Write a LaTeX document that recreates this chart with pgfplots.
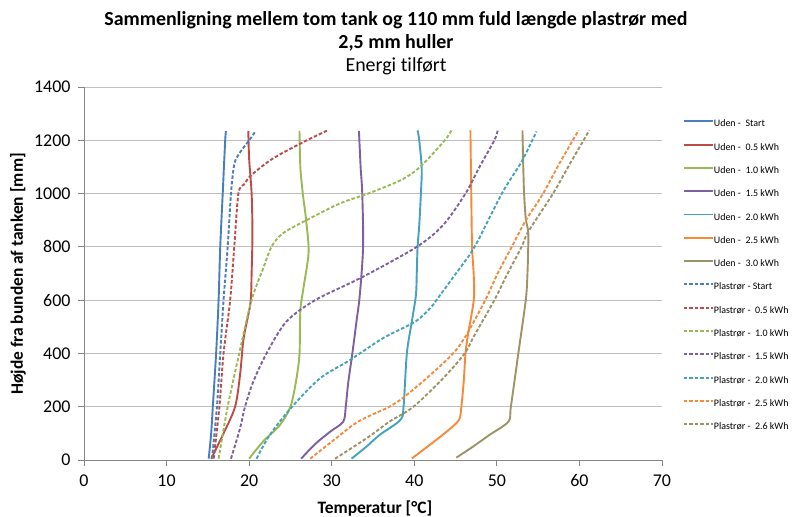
\documentclass[border=0pt]{standalone}
\usepackage{fontspec}
\setmainfont{Carlito}[Ligatures=CommonOff]
\usepackage{pgfplots}
\pgfplotsset{compat=1.18}
\definecolor{c1}{HTML}{4A7EBB}
\definecolor{c2}{HTML}{BE4B48}
\definecolor{c3}{HTML}{98B954}
\definecolor{c4}{HTML}{7D60A0}
\definecolor{c5}{HTML}{44A2BB}
\definecolor{c6}{HTML}{F68A3A}
\definecolor{c7}{HTML}{9D9465}
\definecolor{axgray}{HTML}{868686}
\definecolor{gridgray}{HTML}{BFBFBF}
\begin{document}
\begin{tikzpicture}
\useasboundingbox (0,0) rectangle (792bp,517bp);
\begin{axis}[
  at={(84bp,57bp)}, anchor=south west, scale only axis,
  width=578bp, height=373bp,
  xmin=0, xmax=70, ymin=0, ymax=1400,
  xtick={0,10,...,70}, ytick={0,200,...,1400},
  axis lines*=left,
  axis line style={draw=axgray, line width=0.8bp},
  tick style={draw=axgray, line width=0.8bp},
  tick align=outside, major tick length=6bp,
  ymajorgrids, grid style={draw=gridgray, line width=0.8bp},
  tick label style={font=\fontsize{18}{20}\selectfont, text=black},
  xticklabel style={yshift=-5bp},
  yticklabel style={xshift=-4bp},
  /pgf/number format/assume math mode=true,
  /pgf/number format/1000 sep={},
  legend style={at={(1.0363,0.912)}, anchor=north west, draw=none, fill=none,
    font=\fontsize{10}{12}\selectfont, inner sep=0pt, outer sep=0pt,
    row sep=14.3bp,
    nodes={inner sep=0pt, text height=7bp, text depth=2bp},
    /tikz/every even column/.append style={column sep=2bp}},
  legend cell align=left,
  legend image code/.code={\draw[#1, line width=1.9bp] (0bp,3bp) -- (29bp,3bp);},
  every axis plot/.append style={line width=1.9bp, smooth},
]
% Uden (solid)
\addplot[c1] coordinates {(15.1,5)(15.4,100)(15.6,200)(16.0,400)(16.3,600)(16.5,800)(16.8,1000)(17.1,1200)(17.2,1235)};
\addlegendentry{Uden - \ Start}
\addplot[c2] coordinates {(15.4,5)(16.9,100)(18.3,200)(18.9,320)(19.3,450)(19.8,530)(20.2,600)(20.3,700)(20.4,850)(20.3,1000)(20.0,1130)(19.9,1235)};
\addlegendentry{Uden - \ 0.5 kWh}
\addplot[c3] coordinates {(20.0,5)(21.7,70)(23.7,130)(25.0,200)(25.7,300)(26.1,400)(26.2,560)(26.6,650)(27.2,780)(26.9,900)(26.5,1000)(26.2,1100)(26.1,1235)};
\addlegendentry{Uden - \ 1.0 kWh}
\addplot[c4] coordinates {(26.3,5)(28.0,60)(29.8,106)(31.4,144)(31.7,200)(32.0,290)(32.5,400)(33.0,520)(33.4,619)(33.8,800)(33.7,1000)(33.5,1100)(33.3,1235)};
\addlegendentry{Uden - \ 1.5 kWh}
\addplot[c5] coordinates {(32.4,5)(34.2,50)(35.8,94)(38.3,150)(38.7,200)(39.1,400)(39.7,519)(40.2,619)(40.3,700)(40.4,800)(40.6,880)(40.8,1000)(40.9,1094)(40.6,1200)(40.4,1237)};
\addlegendentry{Uden - \ 2.0 kWh}
\addplot[c6] coordinates {(39.7,6)(41.8,55)(43.9,106)(45.4,150)(45.7,200)(46.0,300)(46.2,400)(46.5,470)(47.2,600)(47.2,694)(47.0,800)(46.9,1000)(46.8,1237)};
\addlegendentry{Uden - \ 2.5 kWh}
\addplot[c7] coordinates {(45.1,9)(47.1,50)(49.1,94)(51.4,144)(51.7,200)(52.6,400)(53.5,600)(53.7,694)(53.8,800)(53.8,857)(53.5,907)(53.3,1000)(53.2,1100)(53.1,1237)};
\addlegendentry{Uden - \ 3.0 kWh}
% Plastroer (dashed)
\addplot[c1, dash pattern=on 3.5bp off 2bp] coordinates {(15.5,5)(16.1,200)(16.5,400)(16.9,600)(17.4,800)(17.8,1000)(18.2,1110)(18.8,1150)(20.0,1200)(20.8,1235)};
\addlegendentry{Plastrør - Start}
\addplot[c2, dash pattern=on 3.5bp off 2bp] coordinates {(15.7,5)(16.4,200)(16.9,400)(17.7,600)(18.2,800)(18.7,1000)(19.4,1035)(20.3,1070)(22.9,1132)(27.0,1200)(29.5,1237)};
\addlegendentry{Plastrør - \ 0.5 kWh}
\addplot[c3, dash pattern=on 3.5bp off 2bp] coordinates {(16.3,5)(17.4,200)(18.8,400)(20.3,600)(21.7,719)(22.7,800)(24.1,851)(27.0,901)(31.0,963)(34.4,1000)(38.4,1051)(40.7,1100)(43.7,1200)(44.5,1237)};
\addlegendentry{Plastrør - \ 1.0 kWh}
\addplot[c4, dash pattern=on 3.5bp off 2bp] coordinates {(17.8,5)(18.9,119)(19.5,200)(20.5,294)(22.1,400)(24.5,519)(28.0,600)(33.8,688)(40.3,800)(43.5,882)(46.2,1000)(47.9,1100)(49.7,1200)(50.1,1237)};
\addlegendentry{Plastrør - \ 1.5 kWh}
\addplot[c5, dash pattern=on 3.5bp off 2bp] coordinates {(20.9,5)(22.5,94)(25.2,200)(28.6,307)(32.2,375)(36.2,457)(40.1,519)(41.9,569)(42.8,605)(44.9,694)(47.3,800)(50.6,1000)(53.0,1120)(54.8,1233)};
\addlegendentry{Plastrør - \ 2.0 kWh}
\addplot[c6, dash pattern=on 3.5bp off 2bp] coordinates {(27.4,5)(30.5,81)(33.2,144)(37.0,200)(38.3,225)(41.5,307)(44.7,400)(46.3,469)(48.6,600)(50.0,694)(51.8,800)(53.4,894)(55.6,1000)(57.7,1120)(59.9,1237)};
\addlegendentry{Plastrør - \ 2.5 kWh}
\addplot[c7, dash pattern=on 3.5bp off 2bp] coordinates {(30.4,5)(34.2,81)(37.0,144)(39.9,200)(43.5,307)(46.1,400)(47.3,469)(49.7,600)(51.2,694)(53.0,800)(53.8,857)(56.8,1000)(59.0,1120)(61.2,1237)};
\addlegendentry{Plastrør - \ 2.6 kWh}
\end{axis}
\node[anchor=base, font=\bfseries\fontsize{20}{24}\selectfont] at (396bp,491bp) {Sammenligning mellem tom tank og 110 mm fuld længde plastrør med};
\node[anchor=base, font=\bfseries\fontsize{20}{24}\selectfont] at (396bp,468bp) {2,5 mm huller};
\node[anchor=base, font=\fontsize{20}{24}\selectfont] at (396bp,445bp) {Energi tilført};
\node[anchor=base, font=\bfseries\fontsize{17.5}{20}\selectfont] at (375bp,4bp) {Temperatur [°C]};
\node[anchor=center, rotate=90, font=\bfseries\fontsize{17.5}{20}\selectfont] at (18bp,243bp) {Højde fra bunden af tanken [mm]};
\end{tikzpicture}
\end{document}
